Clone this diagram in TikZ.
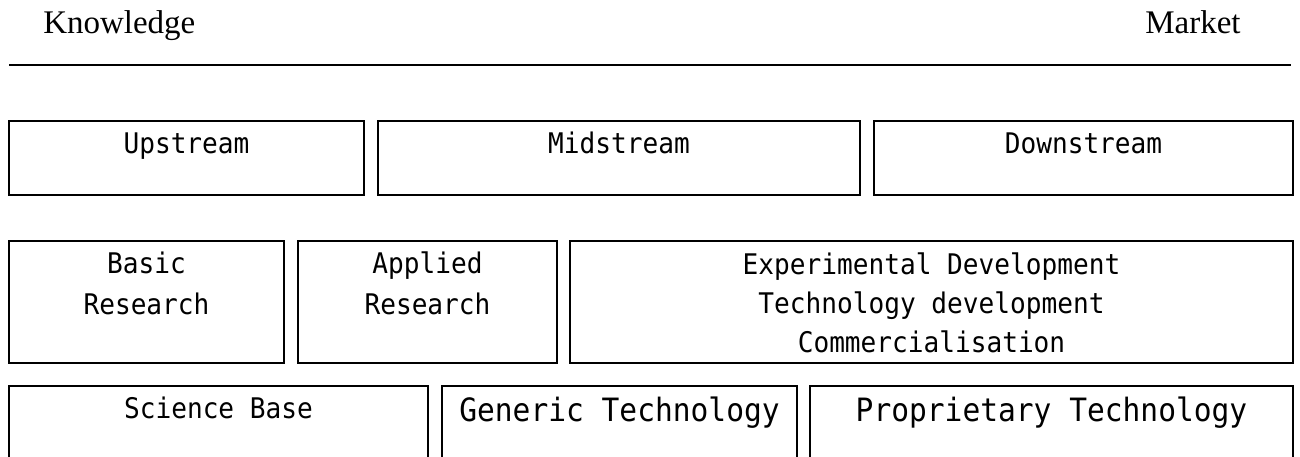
\documentclass[tikz,border=0pt]{standalone}
\usepackage{fontspec}
\setmainfont{Liberation Serif}
\newfontfamily\boxfont[FakeStretch=0.92]{DejaVu Sans Mono}
\usetikzlibrary{fit}
\tikzset{
  box/.style={draw, line width=1.2pt, inner sep=0pt, fit={#1}},
  lbl/.style={anchor=base, inner sep=0pt, font=\boxfont\fontsize{21.3}{26}\selectfont},
  biglbl/.style={anchor=base, inner sep=0pt, font=\boxfont\fontsize{24.1}{29}\selectfont},
  head/.style={anchor=base west, inner sep=0pt, font=\fontsize{24.75}{30}\selectfont},
  rule/.style={line width=1.3pt}
}
\begin{document}
\begin{tikzpicture}[x=0.75pt, y=-0.75pt]
\clip (0,0) rectangle (1300,457);

% heading: from knowledge to market
\node[head] (know) at (43,33) {Knowledge};
\node[head] (mkt) at (1145,33) {Market};
\coordinate (ruleL) at (9,65);
\coordinate (ruleR) at (1291,65);
\draw[rule] (ruleL) -- (ruleR);

% first row: stream position
\node[box={(9,121) (364,195)}] (up) {};
\node[box={(378,121) (860,195)}] (mid) {};
\node[box={(874,121) (1293,195)}] (down) {};
\node[lbl] (upT) at (186.5,153) {Upstream};
\node[lbl] (midT) at (619,153) {Midstream};
\node[lbl] (downT) at (1083.5,153) {Downstream};

% second row: kinds of activity
\node[box={(9,241) (284,363)}] (basic) {};
\node[box={(298,241) (557,363)}] (appl) {};
\node[box={(570,241) (1293,363)}] (exp) {};
\node[lbl] (basicA) at (146.5,273) {Basic};
\node[lbl] (basicB) at (146.5,314) {Research};
\node[lbl] (applA) at (427.5,273) {Applied};
\node[lbl] (applB) at (427.5,314) {Research};
\node[lbl] (expA) at (931.5,274) {Experimental Development};
\node[lbl] (expB) at (931.5,313) {Technology development};
\node[lbl] (expC) at (931.5,352) {Commercialisation};

% third row: kinds of knowledge base
\node[box={(9,386) (428,480)}] (sci) {};
\node[box={(442,386) (797,480)}] (gen) {};
\node[box={(810,386) (1293,480)}] (prop) {};
\node[lbl] (sciT) at (218.5,418) {Science Base};
\node[biglbl] (genT) at (619.5,421) {Generic Technology};
\node[biglbl] (propT) at (1051.5,421) {Proprietary Technology};
\end{tikzpicture}
\end{document}
